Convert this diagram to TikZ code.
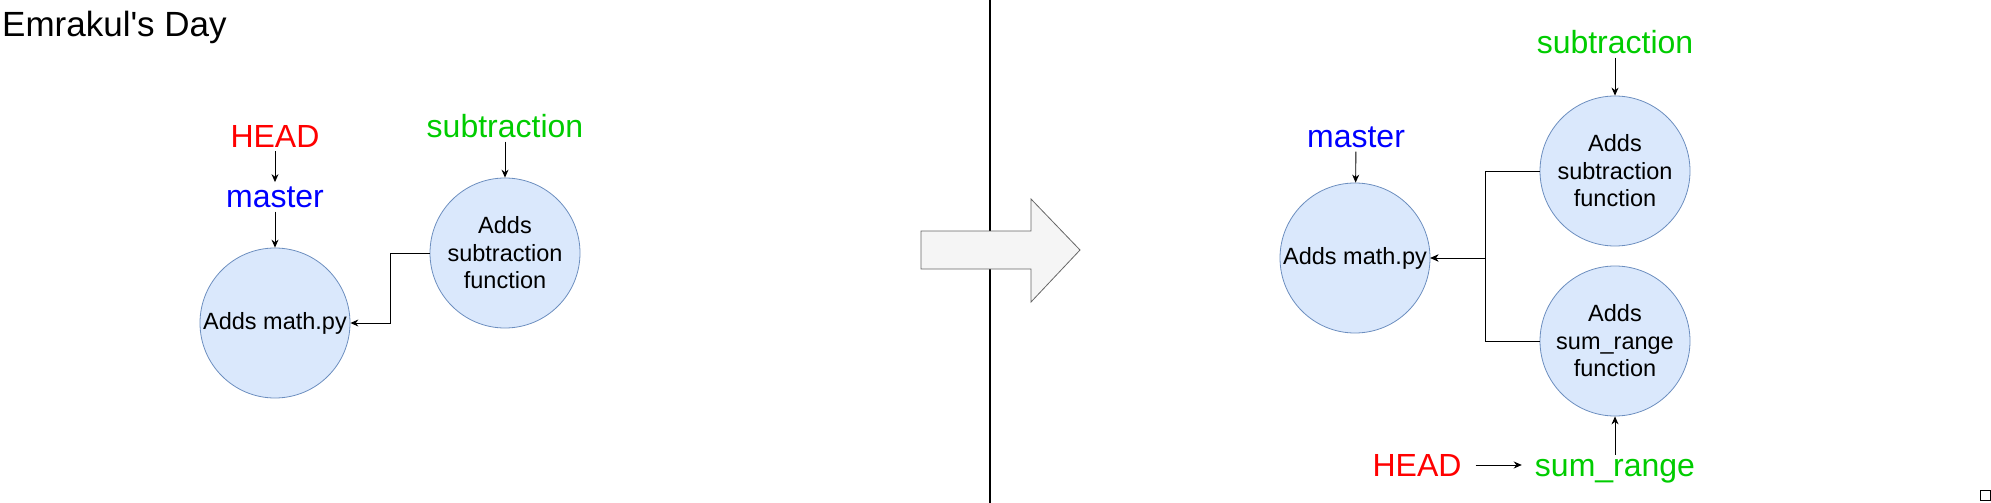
\documentclass[tikz,border=0pt]{standalone}
\usepackage{fontspec}
\setmainfont{Liberation Sans}
\usetikzlibrary{arrows.meta, positioning}

\definecolor{headred}{HTML}{FF0000}
\definecolor{masterblue}{HTML}{0000FF}
\definecolor{branchgreen}{HTML}{00CC00}
\definecolor{commitfill}{HTML}{DAE8FC}
\definecolor{commitline}{HTML}{6C8EBF}
\definecolor{arrowfill}{HTML}{F5F5F5}
\definecolor{arrowline}{HTML}{666666}

\begin{document}
\begin{tikzpicture}[
			x=1pt, y=-1pt,
			commit/.style={draw=commitline, fill=commitfill, line width=0.8pt, align=center, inner sep=0pt, circle, minimum size=150pt, font=\fontsize{23.5}{27.5}\selectfont},
			ref/.style={anchor=base, inner sep=4pt, font=\fontsize{32}{38}\selectfont},
			arrow/.style={-{Stealth[length=8pt, width=7pt]}, line width=0.9pt}
			]
			
			\useasboundingbox (0,0) rectangle (1991,503);
			
			% --- Title ---
			\node[anchor=base west, inner sep=0pt, font=\fontsize{35}{42}\selectfont] (title) at (2,37) {Emrakul\textquotesingle s Day};
			
			% --- Before: commits ---
			\node[commit] (math1) at (275,323) {Adds math.py};
			\node[commit] (sub1) at (505,253) {Adds\\subtraction\\function};
			
			% --- Before: refs ---
			\node[ref, text=headred] (head1) at (275,147) {HEAD};
			\node[ref, text=masterblue] (master1) at (275,207) {master};
			\node[ref, text=branchgreen] (subref1) at (505,137) {subtraction};
			
			\draw[arrow] (head1) -- (master1);
			\draw[arrow] (master1) -- (math1);
			\draw[arrow] (subref1) -- (sub1);
			\draw[arrow] (sub1.west) -- ++(-39,0) |- (math1.east);
			
			% --- Separator and big arrow ---
			\draw[line width=1.2pt] (990,0) -- (990,503);
			\draw[draw=arrowline, fill=arrowfill, line width=0.8pt]
			(921,231) -- (1031,231) -- (1031,199) -- (1080,250) -- (1031,302) -- (1031,269) -- (921,269) -- cycle;
			
			% --- After: commits ---
			\node[commit] (math2) at (1355,258) {Adds math.py};
			\node[commit] (sub2) at (1615,171) {Adds\\subtraction\\function};
			\node[commit] (sumr) at (1615,341) {Adds\\sum\_range\\function};
			
			% --- After: refs ---
			\node[ref, text=masterblue] (master2) at (1356,147) {master};
			\node[ref, text=branchgreen] (subref2) at (1615,53) {subtraction};
			\node[ref, text=branchgreen] (sumref) at (1615,476) {sum\_range};
			\node[ref, text=headred] (head2) at (1417,476) {HEAD};
			
			\draw[arrow] (master2) -- (math2);
			\draw[arrow] (subref2) -- (sub2);
			\draw[arrow] (sumref) -- (sumr);
			\draw[arrow, shorten <=10pt, shorten >=9pt] (head2.east) -- (head2.east -| sumref.west);
			
			\draw[arrow] (sub2.west) -- ++(-54,0) |- (math2.east);
			\draw[arrow] (sumr.west) -- ++(-54,0) |- (math2.east);
			
			% --- Corner mark ---
			\node[draw, line width=0.8pt, minimum size=10pt, inner sep=0pt] (corner) at (1985,495) {};
			
	\end{tikzpicture}
\end{document}
